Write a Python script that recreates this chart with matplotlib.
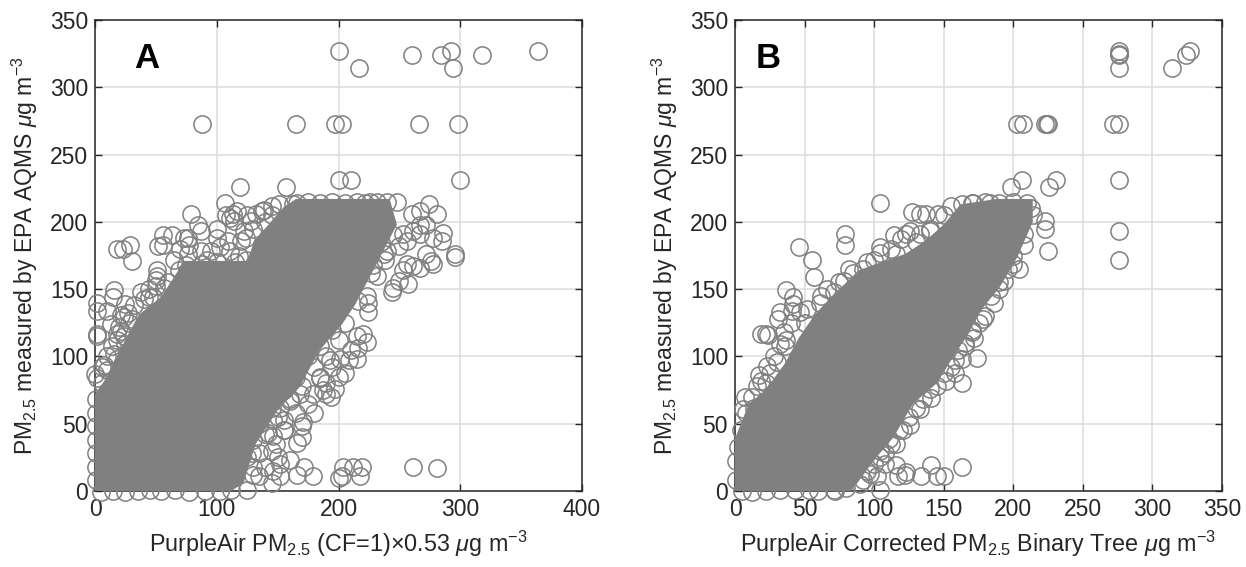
import matplotlib
matplotlib.use("Agg")
import matplotlib.pyplot as plt

plt.rcParams['font.family'] = ['Liberation Sans', 'DejaVu Sans']
plt.rcParams['mathtext.fontset'] = 'custom'
plt.rcParams['mathtext.rm'] = 'Liberation Sans'
plt.rcParams['mathtext.it'] = 'Liberation Sans:italic'
plt.rcParams['mathtext.bf'] = 'Liberation Sans:bold'

GRAY = '#808080'

# panel A - outline of the solid part of the cloud
core_a_x = [0, 0, 10, 20, 36, 54, 65, 73, 125, 131, 155, 165, 242, 248, 232, 214, 203, 184, 168, 150, 132, 122, 112, 0]
core_a_y = [0, 72, 85, 104, 131, 144, 159, 171, 171, 186, 211, 217, 217, 198, 170, 139, 124, 104, 77, 60, 35, 6, 0, 0]

# panel A - far outliers
far_a_x = [200, 217, 260, 284, 292, 294, 318, 364, 88, 165, 197, 203, 266, 298, 200, 210, 300, 119, 157]
far_a_y = [327, 314, 324, 324, 327, 314, 324, 327, 273, 273, 273, 273, 273, 273, 231, 231, 231, 226, 226]

# panel A - upper left fringe
left_a_x = [18, 23, 29, 30, 52, 56, 56, 63, 73, 76, 77, 79, 85, 87, 107, 113, 111, 114, 117, 137, 132, 139, 151,
            100, 109, 120, 87, 95, 103, 111, 128, 122, 76, 51, 51, 50, 57, 44, 40, 48, 69, 25, 27, 24, 16, 15,
            2, 2, 10, 2, 2, 13, 21, 18, 21, 18, 18, 6, 2, 0, 7, 25, 108, 163, 145, 125,
            10, 14, 20, 28, 32, 38, 44, 50, 60, 6, 10, 16, 24, 30, 65, 70, 92, 100, 118, 124, 130, 140, 145]
left_a_y = [180, 180, 183, 171, 182, 183, 190, 190, 188, 188, 183, 206, 198, 193, 214, 206, 203, 201, 208, 208, 206, 209, 213,
            188, 186, 186, 178, 178, 181, 178, 201, 193, 176, 164, 160, 157, 151, 144, 143, 144, 164, 139, 132, 129, 149, 144,
            140, 134, 134, 115, 117, 124, 131, 117, 119, 112, 98, 92, 84, 87, 94, 109, 205, 213, 212, 205,
            100, 108, 122, 125, 138, 148, 150, 152, 155, 80, 90, 102, 115, 128, 172, 180, 172, 195, 175, 188, 195, 200, 205]

# panel A - right and lower fringe
right_a_x = [248, 226, 274, 260, 267, 281, 286, 278, 285, 267, 272, 261, 267, 253, 256, 296, 296, 276, 278, 267, 256,
             253, 261, 257, 250, 245, 244, 272, 237, 227, 223, 224, 216, 224, 220, 223, 216, 215, 209, 201, 205, 193,
             197, 194, 187, 179, 185, 190, 171, 170, 166, 155, 155, 146, 149, 142, 172, 179, 166, 160, 152, 145, 135,
             152, 125, 146, 140, 204, 212, 219, 200, 218, 203, 261, 281, 129, 130, 146, 127, 135, 160, 168, 152,
             195, 200, 205, 210, 215, 185, 190, 195, 200, 175, 180, 185, 190, 165, 170, 175, 180, 155, 160, 165, 170,
             145, 150, 155, 135, 140, 145, 150, 130, 135, 125, 130, 235, 240, 245, 250, 228, 232, 238]
right_a_y = [215, 215, 213, 206, 208, 206, 192, 188, 186, 198, 198, 193, 191, 191, 186, 176, 174, 171, 169, 166, 169,
             164, 167, 154, 156, 151, 148, 176, 176, 162, 145, 140, 141, 133, 117, 111, 106, 98, 97, 98, 88, 97,
             76, 70, 75, 72, 85, 80, 51, 40, 36, 53, 45, 53, 35, 43, 18, 11, 12, 23, 20, 6, 11,
             11, 1, 15, 18, 18, 18, 18, 10, 11, 11, 18, 17, 28, 18, 41, 50, 62, 67, 72, 62,
             120, 112, 125, 105, 115, 108, 100, 92, 85, 100, 92, 84, 72, 85, 78, 65, 58, 75, 68, 58, 48,
             62, 55, 45, 50, 42, 30, 25, 38, 28, 25, 12, 185, 178, 190, 182, 168, 160, 172]

# panel A - circles along the top, left and bottom edges of the cloud
edge_a_x = [166, 175, 185, 195, 205, 215, 222, 232, 240, 1, 1, 1, 1, 1, 1, 1, 5, 15, 25, 35, 45, 54, 66, 77, 90, 103, 112,
            75, 88, 100, 115, 124]
edge_a_y = [214, 215, 214, 215, 214, 215, 214, 215, 215, 8, 18, 28, 38, 48, 58, 68, -1, 0, -1, 0, 1, 0, 1, -1, 0, 0, 1,
            168, 169, 170, 170, 172]

# panel B - outline of the solid part of the cloud
core_b_x = [0, 0, 10, 22, 36, 46, 58, 74, 89, 105, 122, 137, 150, 162, 188, 214, 214, 203, 190, 178, 166, 157, 145, 128, 114, 100, 88, 83, 0]
core_b_y = [0, 39, 65, 75, 95, 114, 132, 149, 164, 170, 176, 186, 198, 213, 217, 217, 200, 174, 151, 136, 114, 100, 80, 65, 40, 23, 6, 0, 0]

# panel B - far outliers
far_b_x = [276, 276, 276, 276, 314, 324, 327, 203, 207, 223, 225, 224, 272, 276, 206, 231, 276, 198, 226, 276, 276, 223, 223, 225]
far_b_y = [327, 324, 325, 314, 314, 324, 327, 273, 273, 273, 273, 273, 273, 273, 231, 231, 231, 226, 226, 193, 172, 201, 195, 178]

# panel B - upper left fringe
left_b_x = [104, 127, 133, 137, 79, 79, 46, 55, 57, 37, 42, 42, 32, 31, 41, 47, 61, 71, 78, 22, 24, 19, 32, 37, 36, 30, 23,
            17, 19, 22, 7, 6, 14, 104, 104, 114, 119, 123, 116, 92, 85, 140, 146, 163, 171, 183, 126, 133,
            4, 8, 12, 16, 25, 28, 35, 40, 50, 52, 62, 66, 75, 82, 95, 100, 112, 130, 140, 150, 155]
left_b_y = [214, 207, 206, 206, 191, 183, 181, 172, 159, 149, 144, 139, 133, 128, 134, 133, 140, 148, 156, 117, 116, 117, 109, 112, 108, 96, 93,
            86, 82, 80, 70, 61, 62, 181, 177, 190, 187, 191, 176, 165, 162, 193, 206, 213, 214, 214, 193, 191,
            45, 58, 70, 78, 88, 100, 118, 125, 125, 135, 145, 150, 155, 165, 170, 172, 180, 185, 195, 205, 212]

# panel B - right and lower fringe
right_b_x = [204, 193, 186, 178, 172, 174, 163, 158, 163, 152, 158, 141, 133, 126, 121, 116, 111, 163, 141, 150, 145, 134,
             122, 123, 116, 117, 108, 104, 102, 97, 72, 104, 104, 213, 208, 208, 200, 190, 170, 165,
             200, 196, 190, 184, 180, 175, 170, 165, 160, 155, 150, 145, 140, 135, 130, 125, 118, 112, 108, 100, 95, 92, 90]
right_b_y = [165, 156, 140, 128, 114, 99, 98, 97, 80, 82, 88, 69, 61, 49, 45, 35, 39, 18, 19, 11, 11, 11,
             12, 14, 19, 11, 20, 1, 11, 13, 0, 25, 30, 210, 191, 183, 169, 155, 120, 108,
             175, 165, 150, 145, 130, 125, 118, 110, 105, 92, 88, 78, 76, 68, 62, 55, 45, 35, 28, 20, 15, 8, 5]

# panel B - circles along the top, left and bottom edges of the cloud
edge_b_x = [170, 180, 190, 200, 210, 214, 1, 1, 2, 5, 12, 22, 32, 43, 53, 60, 71, 80]
edge_b_y = [214, 215, 214, 215, 214, 205, 8, 22, 33, 0, -1, 0, 1, 1, 1, 0, 1, 2]

x_ticks_a = [0, 100, 200, 300, 400]
x_ticks_b = [0, 50, 100, 150, 200, 250, 300, 350]
y_ticks = [0, 50, 100, 150, 200, 250, 300, 350]

W, H = 1246, 567


def panel(box, core_x, core_y, px, py, xmax, xticks, xlabel, letter, letter_x):
    left, top, right, bottom = box
    ax = fig.add_axes([left / W, 1 - bottom / H, (right - left) / W, (bottom - top) / H])
    ax.set_xlim(0, xmax)
    ax.set_ylim(0, 350)
    ax.set_xticks(xticks)
    ax.set_yticks(y_ticks)
    ax.grid(True, color='#dcdcdc', linewidth=1.1)
    ax.set_axisbelow(True)
    ax.tick_params(direction='in', top=True, right=True, length=5, width=1.0, labelsize=16.5,
                   color='#262626', labelcolor='#262626', pad=5)
    for s in ax.spines.values():
        s.set_linewidth(1.1)
        s.set_color('#262626')
    ax.fill(core_x, core_y, color=GRAY, linewidth=0, clip_on=False, zorder=3)
    ax.plot(px, py, 'o', ms=12.4, mfc='none', mec=GRAY, mew=1.1, clip_on=False, zorder=4)
    ax.set_xlabel(xlabel, fontsize=16.8, color='#262626', labelpad=6)
    ax.set_ylabel('PM$_{2.5}$ measured by EPA AQMS $\\mu$g m$^{-3}$', fontsize=16.5, color='#262626')
    ax.yaxis.set_label_coords(-0.112, 0.5)
    fig.text(letter_x / W, 1 - 58 / H, letter, fontsize=25, fontweight='bold', color='black',
             ha='center', va='center')
    return ax


fig = plt.figure(figsize=(W / 100, H / 100), dpi=100)
panel((95, 20, 582, 491), core_a_x, core_a_y,
      far_a_x + left_a_x + right_a_x + edge_a_x, far_a_y + left_a_y + right_a_y + edge_a_y,
      400, x_ticks_a, 'PurpleAir PM$_{2.5}$ (CF=1)$\\times$0.53 $\\mu$g m$^{-3}$', 'A', 147)
panel((735, 20, 1222, 491), core_b_x, core_b_y,
      far_b_x + left_b_x + right_b_x + edge_b_x, far_b_y + left_b_y + right_b_y + edge_b_y,
      350, x_ticks_b, 'PurpleAir Corrected PM$_{2.5}$ Binary Tree $\\mu$g m$^{-3}$', 'B', 768)

fig.savefig('out.png', dpi=100)
